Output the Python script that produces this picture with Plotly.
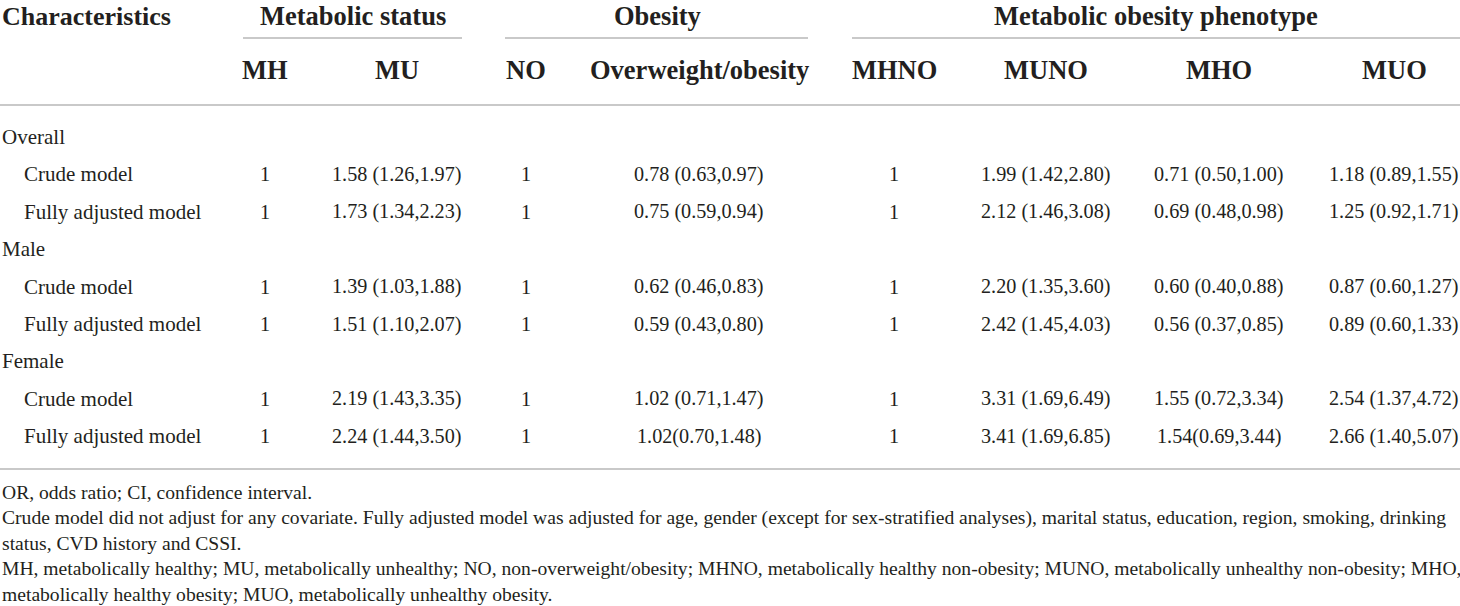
import plotly.graph_objects as go

# table content
groups = ["Overall", "Male", "Female"]
models = ["Crude model", "Fully adjusted model"]

group_headers = ["Metabolic status", "Obesity", "Metabolic obesity phenotype"]
col_headers = ["MH", "MU", "NO", "Overweight/obesity", "MHNO", "MUNO", "MHO", "MUO"]

mh = ["1", "1", "1", "1", "1", "1"]
mu = ["1.58 (1.26,1.97)", "1.73 (1.34,2.23)", "1.39 (1.03,1.88)",
      "1.51 (1.10,2.07)", "2.19 (1.43,3.35)", "2.24 (1.44,3.50)"]
no = ["1", "1", "1", "1", "1", "1"]
overweight = ["0.78 (0.63,0.97)", "0.75 (0.59,0.94)", "0.62 (0.46,0.83)",
              "0.59 (0.43,0.80)", "1.02 (0.71,1.47)", "1.02(0.70,1.48)"]
mhno = ["1", "1", "1", "1", "1", "1"]
muno = ["1.99 (1.42,2.80)", "2.12 (1.46,3.08)", "2.20 (1.35,3.60)",
        "2.42 (1.45,4.03)", "3.31 (1.69,6.49)", "3.41 (1.69,6.85)"]
mho = ["0.71 (0.50,1.00)", "0.69 (0.48,0.98)", "0.60 (0.40,0.88)",
       "0.56 (0.37,0.85)", "1.55 (0.72,3.34)", "1.54(0.69,3.44)"]
muo = ["1.18 (0.89,1.55)", "1.25 (0.92,1.71)", "0.87 (0.60,1.27)",
       "0.89 (0.60,1.33)", "2.54 (1.37,4.72)", "2.66 (1.40,5.07)"]

footnotes = [
    "OR, odds ratio; CI, confidence interval.",
    "Crude model did not adjust for any covariate. Fully adjusted model was adjusted for age, gender "
    "(except for sex-stratified analyses), marital status, education, region, smoking, drinking",
    "status, CVD history and CSSI.",
    "MH, metabolically healthy; MU, metabolically unhealthy; NO, non-overweight/obesity; MHNO, metabolically "
    "healthy non-obesity; MUNO, metabolically unhealthy non-obesity; MHO,",
    "metabolically healthy obesity; MUO, metabolically unhealthy obesity.",
]

columns = [mh, mu, no, overweight, mhno, muno, mho, muo]

# layout (pixel-like coordinates of the page)
W, H = 1460, 606
col_x = [265, 397, 526, 699, 894, 1046, 1219, 1394]
group_x = [353, 657, 1156]
group_span = [(243, 462), (505, 808), (852, 1460)]
head1_y, head2_y = 16, 70
rule_head_y, rule_end_y = 105, 469
row_y0, row_step = 137, 37.4
foot_y0, foot_step = 492, 25.5

FONT = "Liberation Serif"
INK = "#231f20"
RULE = "#c9c9c9"

fig = go.Figure()
fig.add_trace(go.Scatter(x=[0, W], y=[0, H], mode="markers",
                         marker=dict(opacity=0), hoverinfo="skip", showlegend=False))

ann = []


def txt(x, y, s, size, bold=False, anchor="center"):
    ann.append(dict(x=x, y=y, xref="x", yref="y", text=f"<b>{s}</b>" if bold else s,
                    showarrow=False, xanchor=anchor, yanchor="middle",
                    font=dict(family=FONT, size=size, color=INK)))


txt(0, head1_y, "Characteristics", 26, True, "left")
for gx, g in zip(group_x, group_headers):
    txt(gx, head1_y, g, 26.5, True)
for cx, c in zip(col_x, col_headers):
    txt(cx, head2_y, c, 26.5, True)

shapes = []
for a, b in group_span:
    shapes.append(dict(type="line", xref="x", yref="y", x0=a, x1=b, y0=38, y1=38,
                       line=dict(color=RULE, width=2)))
for yy in (rule_head_y, rule_end_y):
    shapes.append(dict(type="line", xref="x", yref="y", x0=0, x1=W, y0=yy, y1=yy,
                       line=dict(color=RULE, width=2)))

r = 0
k = 0
for g in groups:
    txt(0, row_y0 + r * row_step, g, 21, anchor="left")
    r += 1
    for m in models:
        y = row_y0 + r * row_step
        txt(22, y, m, 21, anchor="left")
        for cx, col in zip(col_x, columns):
            txt(cx, y, col[k], 20.2)
        r += 1
        k += 1

for i, f in enumerate(footnotes):
    txt(0, foot_y0 + i * foot_step, f, 19.6, anchor="left")

fig.update_layout(
    width=W, height=H,
    margin=dict(l=0, r=0, t=0, b=0),
    paper_bgcolor="white", plot_bgcolor="white",
    xaxis=dict(range=[0, W], visible=False, fixedrange=True),
    yaxis=dict(range=[H, 0], visible=False, fixedrange=True),
    annotations=ann, shapes=shapes,
)

# page body has an 8px default margin; drop it so the table sits flush
fig.write_html("out.html", config={"displayModeBar": False},
               post_script="document.body.style.margin='0';")
